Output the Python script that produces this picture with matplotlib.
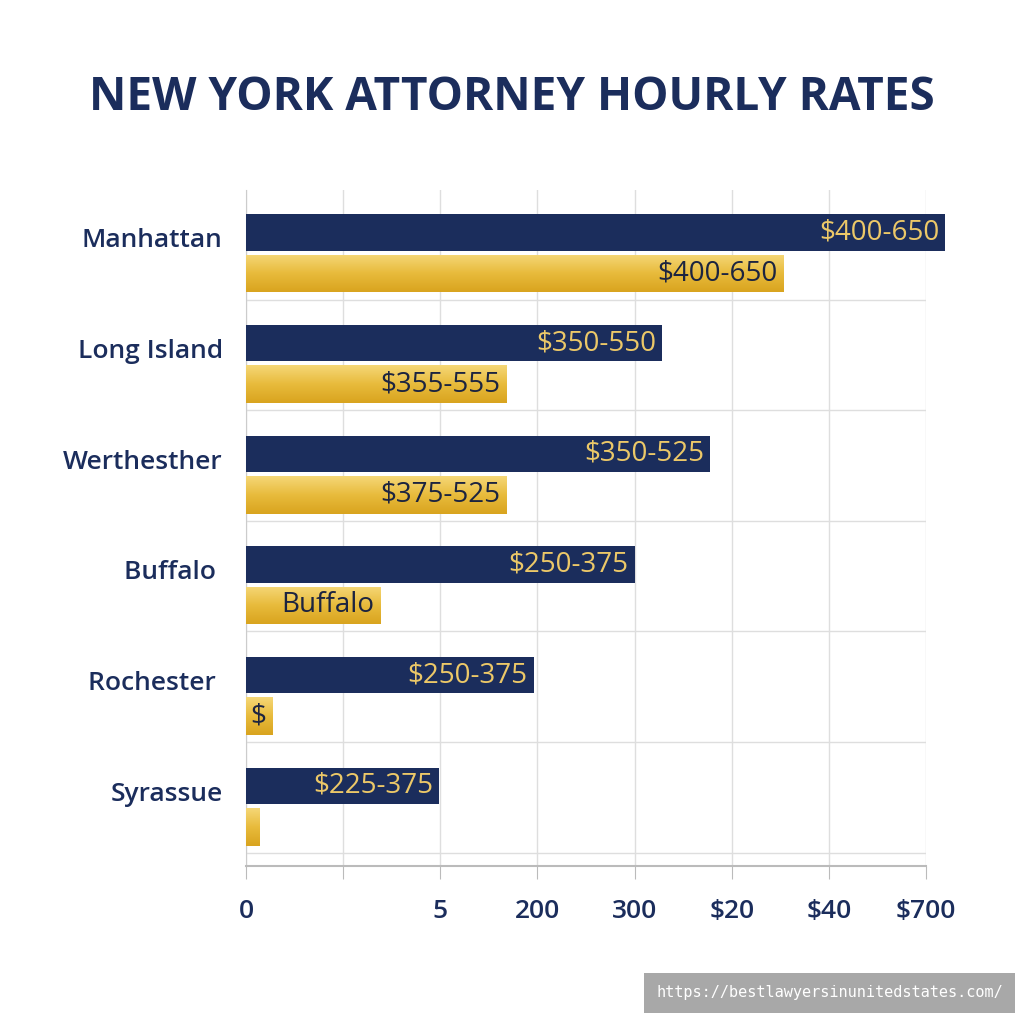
import matplotlib.pyplot as plt
import numpy as np
from matplotlib.colors import LinearSegmentedColormap

"""
New York attorney hourly rates, two bars per region
"""

regions = ['Manhattan', 'Long Island', 'Werthesther', 'Buffalo ', 'Rochester ', 'Syrassue']
navy_vals = [720, 428, 478, 400, 296, 199]
gold_vals = [553, 268, 268, 138, 27, 14]
navy_text = ['$400-650', '$350-550', '$350-525', '$250-375', '$250-375', '$225-375']
gold_text = ['$400-650', '$355-555', '$375-525', 'Buffalo', '$', '']
xticks = [0, 100, 200, 300, 400, 500, 600, 700]
xticklabels = ['0', '', '5', '200', '300', '$20', '$40', '$700']

NAVY = '#1b2d5c'
GOLD = '#e9bd3e'
GOLD_TXT = '#ecc868'
FONT = 'Open Sans'

fig = plt.figure(figsize=(10.24, 10.24), dpi=100, facecolor='w')
ax = fig.add_axes([246/1024, 158/1024, 680/1024, 676/1024])

y = np.arange(len(regions))
off = 0.185
h_navy = 0.33
h_gold = 0.34

nb = ax.barh(y - off, navy_vals, height=h_navy, color=NAVY, zorder=3, clip_on=False)
gb = ax.barh(y + off, gold_vals, height=h_gold, color=GOLD, zorder=3, clip_on=False)

# vertical gradient on gold bars
grad = np.linspace(0, 1, 64).reshape(-1, 1)
gcmap = LinearSegmentedColormap.from_list('g', ['#f5d777', '#e8bb3c', '#d9a41f'])
for p in gb:
    x0, y0 = p.get_x(), p.get_y()
    w, hh = p.get_width(), p.get_height()
    im = ax.imshow(grad, cmap=gcmap, aspect='auto', extent=(x0, x0 + w, y0 + hh, y0),
                   zorder=3.5, interpolation='bicubic')
    im.set_clip_path(p)

for i in range(len(regions)):
    ax.text(navy_vals[i] - 6, y[i] - off, navy_text[i], ha='right', va='center',
            color=GOLD_TXT, fontsize=20, family=FONT, zorder=5, clip_on=False)
    if gold_text[i]:
        ax.text(gold_vals[i] - 6, y[i] + off, gold_text[i], ha='right', va='center',
                color='#1c2440', fontsize=20, family=FONT, zorder=5)

ax.set_xlim(0, 700)
ax.set_ylim(5.54, -0.57)
ax.set_xticks(xticks)
ax.set_xticklabels(xticklabels, fontsize=19, color=NAVY, family=FONT, fontweight='semibold')
ax.set_yticks([])
ax.set_yticks(y + 0.42, minor=True)
ax.tick_params(axis='y', which='minor', length=0)
ax.tick_params(axis='x', length=9, color='#bbbbbb', pad=15)
ax.grid(True, axis='x', color='#dedede', lw=1, zorder=0)
ax.grid(True, axis='y', which='minor', color='#dedede', lw=1, zorder=0)
for s in ['top', 'right']:
    ax.spines[s].set_visible(False)
ax.spines['left'].set_color('#cccccc')
ax.spines['bottom'].set_color('#bbbbbb')
ax.spines['bottom'].set_linewidth(1.5)

for i, r in enumerate(regions):
    ax.text(-24, y[i] - 0.11, r, ha='right', va='center', color=NAVY, fontsize=19,
            family=FONT, fontweight='semibold', transform=ax.transData)

fig.text(0.5, 0.905, 'NEW YORK ATTORNEY HOURLY RATES', ha='center', va='center',
         fontsize=33, fontweight='bold', color=NAVY, family=FONT)

# watermark
fig.text(647/1024 + 0.5*365/1024, 1 - 993/1024, 'https://bestlawyersinunitedstates.com/',
         ha='center', va='center', fontsize=11, family='DejaVu Sans Mono', color='w',
         bbox=dict(boxstyle='square,pad=0.8', fc='#a8a8a8', ec='none'))

plt.savefig('out.png', dpi=100, facecolor='w')
